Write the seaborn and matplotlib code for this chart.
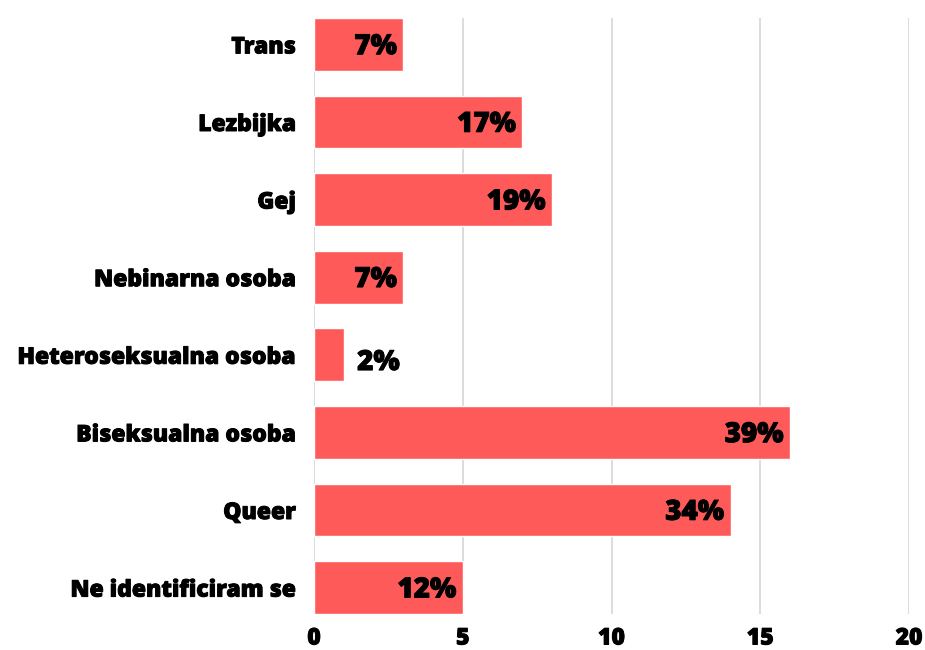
import matplotlib
matplotlib.use("Agg")
import matplotlib.pyplot as plt
import matplotlib.patheffects as pe
import seaborn as sns
import pandas as pd

categories = ["Trans", "Lezbijka", "Gej", "Nebinarna osoba", "Heteroseksualna osoba",
              "Biseksualna osoba", "Queer", "Ne identificiram se"]
counts = [3, 7, 8, 3, 1, 16, 14, 5]
pct_labels = ["7%", "17%", "19%", "7%", "2%", "39%", "34%", "12%"]
x_ticks = [0, 5, 10, 15, 20]

sns.set_theme(style="white")
plt.rcParams['font.family'] = ['Open Sans', 'DejaVu Sans']

df = pd.DataFrame({"cat": categories, "n": counts})

fig = plt.figure(figsize=(9.25, 6.5), dpi=100)
ax = fig.add_axes([314/925, 1-614/650, 595/925, 596/650])
bw = 0.68
sns.barplot(data=df, y="cat", x="n", orient="h", color="#FF5A5A", saturation=1,
            width=bw, ax=ax)
ax.set_xlim(0, 20)
ax.set_ylim(len(categories) - 1 + bw/2, -bw/2)
ax.set_xticks(x_ticks)
ax.xaxis.grid(True, color="#d6d6d6", linewidth=1.2)
ax.set_axisbelow(True)
for s in ax.spines.values():
    s.set_visible(False)
ax.set_xlabel("")
ax.set_ylabel("")
ax.tick_params(axis="y", length=0, pad=13, labelsize=16.5)
ax.tick_params(axis="x", length=0, pad=9, labelsize=16.5)
thick = [pe.withStroke(linewidth=0.7, foreground="black")]
for lab in ax.get_yticklabels() + ax.get_xticklabels():
    lab.set_fontweight("heavy")
    lab.set_color("black")
    lab.set_path_effects(thick)

for i, (v, t) in enumerate(zip(counts, pct_labels)):
    if v >= 2:
        ax.text(v - 0.22, i + 0.03, t, ha="right", va="center", fontsize=20,
                fontweight="heavy", color="black", path_effects=thick)
    else:
        ax.text(v + 0.45, i + 0.1, t, ha="left", va="center", fontsize=20,
                fontweight="heavy", color="black", path_effects=thick)

fig.savefig("out.png", dpi=100)
